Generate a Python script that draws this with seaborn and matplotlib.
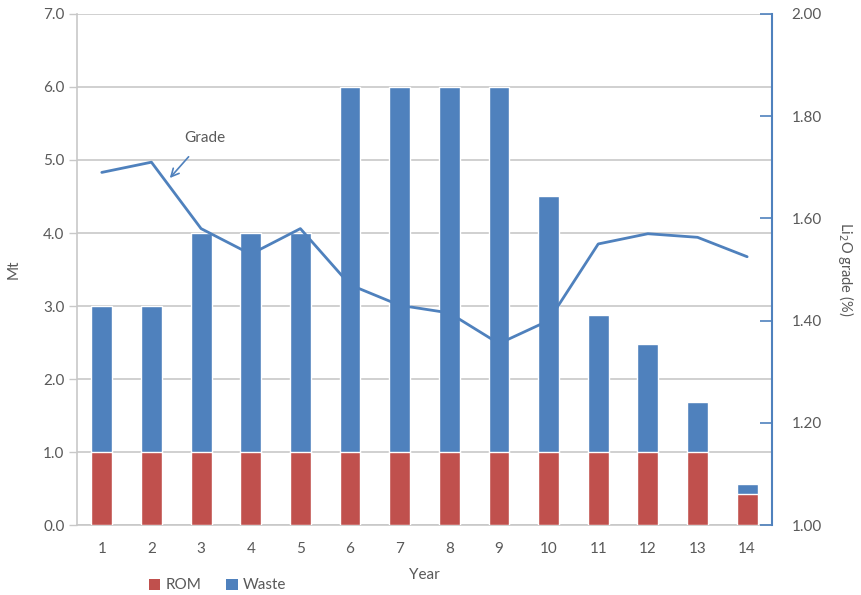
import matplotlib
matplotlib.use("Agg")
import matplotlib.pyplot as plt
from matplotlib.patches import Patch
from matplotlib.ticker import MultipleLocator, FixedLocator
import seaborn as sns
import pandas as pd

# Annual mining schedule
years = list(range(1, 15))
rom = [1.0, 1.0, 1.0, 1.0, 1.0, 1.0, 1.0, 1.0, 1.0, 1.0, 1.0, 1.0, 1.0, 0.42]
waste = [2.0, 2.0, 3.0, 3.0, 3.0, 5.0, 5.0, 5.0, 5.0, 3.5, 1.87, 1.48, 0.68, 0.14]
grade = [1.69, 1.71, 1.58, 1.53, 1.58, 1.47, 1.43, 1.415, 1.355, 1.40, 1.55, 1.57, 1.563, 1.525]

df = pd.DataFrame({"Year": years, "ROM": rom, "Waste": waste, "Grade": grade})
df["Total"] = df["ROM"] + df["Waste"]

sns.set_theme(style="white")
plt.rcParams["font.family"] = ["Lato", "DejaVu Sans"]

RED = "#C0504D"
BLUE = "#4F81BD"
TXT = "#595959"
GRID = "#C8C8C8"

fig = plt.figure(figsize=(8.61, 5.95), dpi=100)
ax = fig.add_axes([0.0894, 0.1176, 0.8072, 0.8589])

# Stacked bars: total height in blue, ROM part drawn over it in red
sns.barplot(data=df, x="Year", y="Total", color=BLUE, saturation=1,
            width=0.42, native_scale=True, ax=ax, zorder=2)
sns.barplot(data=df, x="Year", y="ROM", color=RED, saturation=1,
            width=0.42, native_scale=True, ax=ax, zorder=3)

ax.set_xlim(0.5, 14.5)
ax.set_ylim(0, 7)
ax.yaxis.set_major_locator(MultipleLocator(1.0))
ax.yaxis.set_major_formatter(matplotlib.ticker.FormatStrFormatter("%.1f"))
ax.xaxis.set_major_locator(FixedLocator(years))
ax.set_xticklabels([str(y) for y in years])
ax.xaxis.set_minor_locator(FixedLocator([y + 0.5 for y in range(0, 15)]))
ax.tick_params(axis="x", which="major", length=0, pad=12, labelsize=11, labelcolor=TXT)
ax.tick_params(axis="x", which="minor", length=5, width=1, color=GRID, direction="out")
ax.tick_params(axis="y", length=6, width=1, color=GRID, labelsize=11, labelcolor=TXT, pad=3)
ax.grid(axis="y", color=GRID, linewidth=1.2, zorder=0)
ax.set_axisbelow(True)
for side in ["top", "right"]:
    ax.spines[side].set_visible(False)
for side in ["left", "bottom"]:
    ax.spines[side].set_color(GRID)
    ax.spines[side].set_linewidth(1.2)
ax.set_xlabel("Year", fontsize=11, color=TXT, labelpad=9)
ax.set_ylabel("Mt", fontsize=11, color=TXT, labelpad=16)

# Grade on secondary axis
ax2 = ax.twinx()
sns.lineplot(data=df, x="Year", y="Grade", color=BLUE, linewidth=2.0, ax=ax2, zorder=4)
ax2.set_xlim(0.5, 14.5)
ax2.set_ylim(1.0, 2.0)
ax2.yaxis.set_major_locator(MultipleLocator(0.2))
ax2.yaxis.set_major_formatter(matplotlib.ticker.FormatStrFormatter("%.2f"))
ax2.tick_params(axis="y", direction="in", length=9, width=1.2, color=BLUE,
                labelsize=11, labelcolor=TXT, pad=14)
for side in ["top", "left", "bottom"]:
    ax2.spines[side].set_visible(False)
ax2.spines["right"].set_color(BLUE)
ax2.spines["right"].set_linewidth(1.5)
ax2.set_ylabel("Li$_2$O grade (%)", rotation=270, fontsize=10.5, color=TXT, labelpad=25)
ax2.grid(False)

ax2.annotate("Grade", xy=(2.37, 1.679), xytext=(3.08, 1.757),
             fontsize=11, color=TXT, ha="center", va="center",
             arrowprops=dict(arrowstyle="->", color=BLUE, lw=1.2,
                             shrinkA=8, shrinkB=0, mutation_scale=14))

handles = [Patch(facecolor=RED, edgecolor="none", label="ROM"),
           Patch(facecolor=BLUE, edgecolor="none", label="Waste")]
leg = fig.legend(handles=handles, loc="center left", bbox_to_anchor=(0.157, 0.016),
                 ncol=2, frameon=False, fontsize=11, handlelength=0.75,
                 handleheight=0.75, handletextpad=0.35, columnspacing=1.6)
for t in leg.get_texts():
    t.set_color(TXT)

fig.savefig("out.png", dpi=100)
